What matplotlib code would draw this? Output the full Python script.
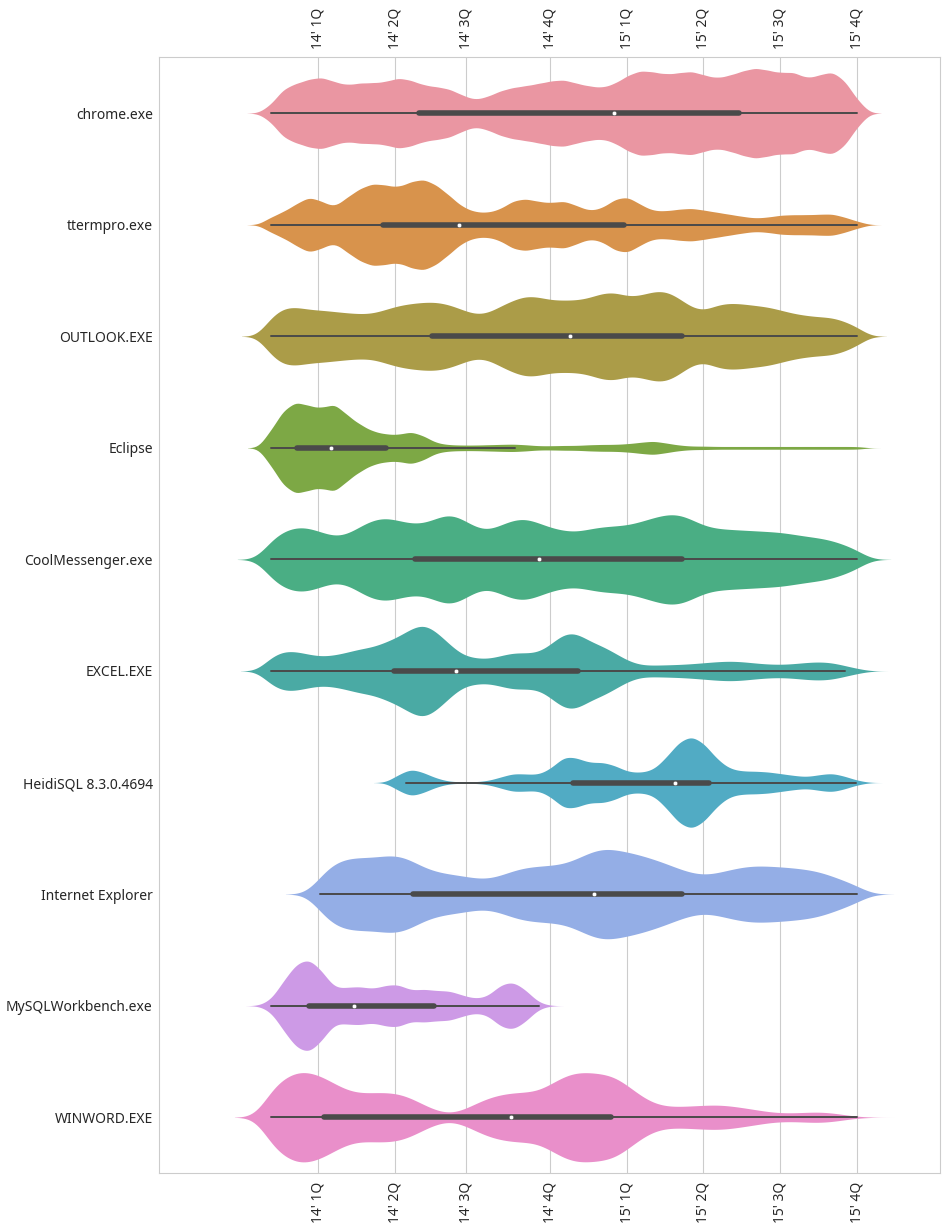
import numpy as np
import pandas as pd
import seaborn as sns
import matplotlib.pyplot as plt

apps = ["chrome.exe", "ttermpro.exe", "OUTLOOK.EXE", "Eclipse", "CoolMessenger.exe",
        "EXCEL.EXE", "HeidiSQL 8.3.0.4694", "Internet Explorer", "MySQLWorkbench.exe",
        "WINWORD.EXE"]

# days since 2014-01-01, one bin every half month (2013-11-06 .. 2015-10-01)
bin_days = np.linspace(-56, 638, 47)

tick_days = [0, 91, 175, 275, 365, 455, 546, 638]
tick_labels = ["14' 1Q", "14' 2Q", "14' 3Q", "14' 4Q",
               "15' 1Q", "15' 2Q", "15' 3Q", "15' 4Q"]

# usage count per half-month bin
chrome = [25, 75, 90, 103, 110, 95, 85, 92, 92, 95, 108, 100, 85, 80, 74, 55, 40, 50, 68, 78,
          83, 90, 98, 102, 90, 82, 77, 90, 115, 130, 125, 118, 122, 128, 115, 106, 115, 128,
          138, 130, 122, 126, 105, 115, 128, 100, 40]
ttermpro = [22, 38, 60, 82, 68, 50, 80, 105, 120, 115, 108, 125, 133, 115, 85, 52, 37, 35, 45,
            70, 76, 67, 63, 70, 55, 40, 48, 75, 82, 58, 40, 40, 45, 48, 42, 36, 30, 24, 19, 22,
            28, 29, 29, 30, 32, 22, 10]
outlook = [58, 87, 88, 80, 78, 74, 70, 67, 68, 80, 92, 98, 102, 103, 95, 80, 65, 68, 90, 108,
           122, 118, 108, 108, 108, 115, 130, 133, 118, 122, 135, 137, 115, 85, 75, 95, 100,
           97, 92, 88, 78, 68, 62, 58, 57, 45, 28]
eclipse = [50, 110, 135, 122, 115, 130, 95, 68, 48, 40, 38, 48, 35, 14, 9, 8, 8, 9, 10, 11,
           9, 6, 6, 7, 7, 9, 10, 10, 12, 16, 20, 14, 8, 5, 5, 4, 4, 4, 4, 4, 4, 4, 4, 4, 4, 4, 4]
coolmsg = [58, 82, 95, 92, 78, 64, 70, 95, 115, 122, 112, 102, 102, 118, 135, 118, 92, 80, 98,
           115, 120, 105, 90, 82, 78, 88, 94, 96, 98, 108, 120, 130, 132, 115, 95, 88, 86, 84,
           82, 80, 78, 72, 66, 62, 55, 42, 28]
excel = [40, 57, 55, 46, 40, 44, 52, 62, 66, 80, 95, 118, 135, 110, 75, 43, 36, 33, 42, 52,
         50, 50, 75, 108, 108, 82, 70, 50, 28, 16, 16, 17, 18, 20, 23, 26, 28, 26, 22, 19, 18,
         20, 24, 26, 24, 15, 7]
heidisql = [0, 0, 0, 0, 0, 0, 0, 0, 0, 0, 22, 40, 28, 12, 3, 2, 2, 5, 15, 26, 24, 22, 40, 75,
            70, 55, 58, 48, 30, 28, 35, 70, 115, 133, 110, 65, 38, 32, 32, 30, 25, 20, 16, 22,
            27, 18, 6]
iexplore = [0, 0, 0, 0, 60, 92, 103, 105, 104, 110, 114, 98, 75, 63, 57, 53, 45, 42, 52, 68,
            77, 80, 82, 85, 100, 120, 133, 128, 120, 112, 100, 88, 72, 60, 53, 60, 70, 78, 82,
            80, 78, 75, 71, 65, 52, 38, 25]
mysqlwb = [15, 70, 120, 135, 100, 48, 52, 55, 47, 58, 62, 42, 48, 42, 43, 30, 20, 25, 60, 70,
           45, 8, 0, 0, 0, 0, 0, 0, 0, 0, 0, 0, 0, 0, 0, 0, 0, 0, 0, 0, 0, 0, 0, 0, 0, 0, 0]
winword = [85, 110, 133, 130, 118, 95, 75, 67, 70, 71, 69, 56, 35, 18, 8, 18, 38, 55, 65, 70,
           71, 72, 95, 118, 130, 127, 124, 118, 90, 60, 38, 30, 30, 32, 34, 36, 33, 27, 22, 15,
           12, 12, 14, 16, 13, 7, 2]
app_counts = [chrome, ttermpro, outlook, eclipse, coolmsg, excel, heidisql, iexplore,
              mysqlwb, winword]

# box stats (days): whisker low, q1, median, q3, whisker high
whis_lo = [-56, -56, -56, -56, -56, -56, 104, 2, -56, -55]
q1 = [120, 77, 135, -25, 115, 90, 302, 112, -11, 7]
med = [350, 167, 298, 16, 261, 163, 422, 327, 43, 228]
q3 = [498, 362, 430, 81, 431, 307, 463, 431, 137, 347]
whis_hi = [638, 638, 638, 233, 638, 623, 636, 638, 261, 638]

# kernel bandwidth per app, in days
bw_days = [9.0, 9.0, 11.1, 8.8, 12.7, 11.5, 9.4, 13.8, 9.5, 13.8]

colors = ["#ea96a2", "#d8934c", "#ab9c48", "#7da845", "#4aae84",
          "#4aaaa4", "#51abc4", "#94aee6", "#cd9ae6", "#e98fca"]

sns.set_style("whitegrid")
plt.rcParams["font.family"] = ["Noto Sans", "DejaVu Sans"]

fig = plt.figure(figsize=(9.47, 12.31), dpi=100)
ax = fig.add_axes([0.1679, 0.0471, 0.8247, 0.9063])

for i, app in enumerate(apps):
    days = np.repeat(bin_days, app_counts[i])
    df = pd.DataFrame({"day": days, "app": app})
    sns.violinplot(data=df, x="day", y="app", order=apps, orient="h",
                   color=colors[i], saturation=1, density_norm="width",
                   bw_method=bw_days[i] / days.std(), cut=3.1, gridsize=300,
                   inner=None, linewidth=0, width=0.8, ax=ax)

gray = "#4a4a4a"
for i in range(len(apps)):
    ax.plot([whis_lo[i], whis_hi[i]], [i, i], color=gray, lw=1.4,
            solid_capstyle="round", zorder=3)
    ax.plot([q1[i], q3[i]], [i, i], color=gray, lw=4,
            solid_capstyle="round", zorder=3)
    ax.scatter([med[i]], [i], s=10, color="white", edgecolor=gray,
               linewidth=0.3, zorder=4)

ax.set_xlim(-188, 735.7)
ax.set_ylim(len(apps) - 0.5, -0.5)
ax.set_xticks(tick_days, tick_labels)
ax.tick_params(axis="x", top=True, labeltop=True, bottom=True, labelbottom=True,
               labelrotation=90, length=0, labelsize=10, pad=6, colors=".15")
ax.tick_params(axis="y", length=0, labelsize=10, pad=4.5, colors=".15")
ax.set_xlabel("")
ax.set_ylabel("")

fig.savefig("out.png", dpi=100)
